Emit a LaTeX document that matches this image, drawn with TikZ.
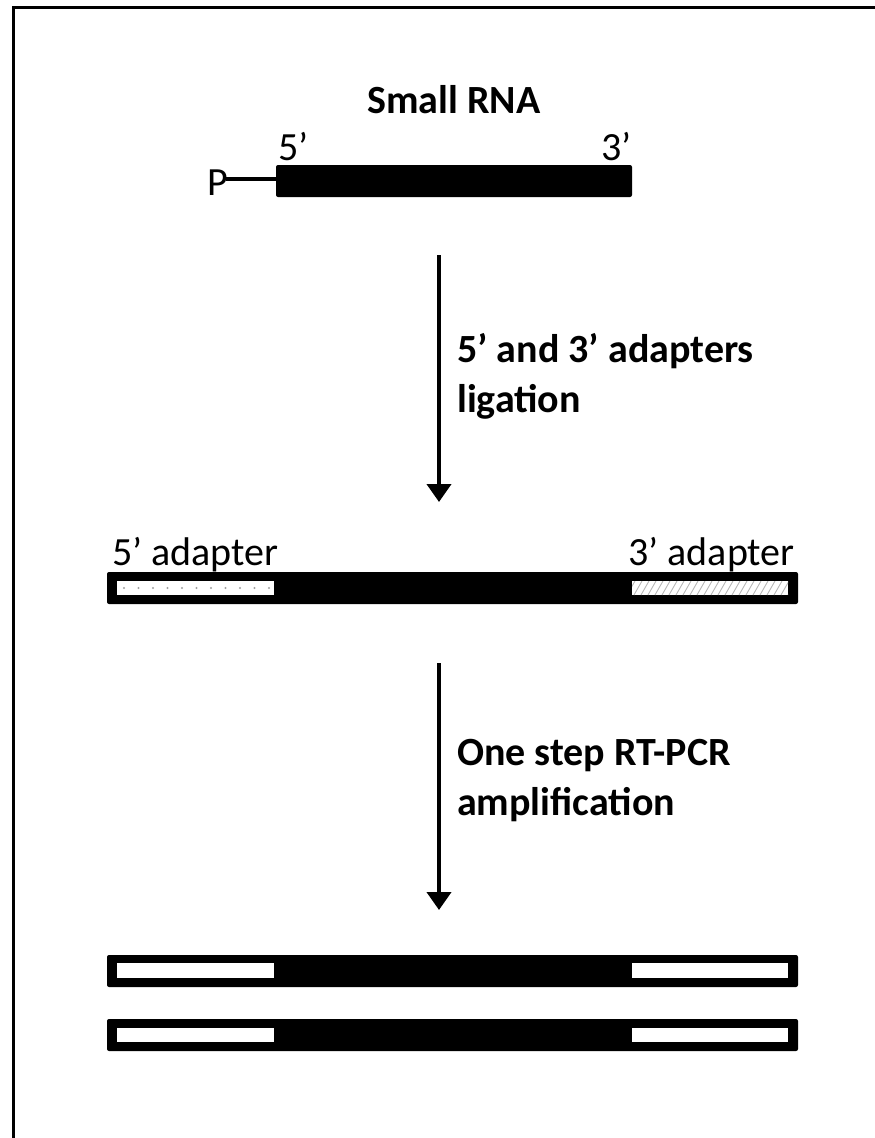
\documentclass[tikz,border=0pt]{standalone}
\usepackage{fontspec}
\setmainfont{Carlito}
\usetikzlibrary{arrows.meta,patterns.meta}
\tikzset{
  lbl/.style={inner sep=0pt, font=\fontsize{40}{50}\selectfont},
  blbl/.style={inner sep=0pt, font=\fontsize{40}{50}\selectfont\bfseries, align=left},
  barbox/.style={fill=black, rounded corners=2pt},
  hole/.style={fill=white},
  dotmark/.style={fill=gray!75},
  steparrow/.style={line width=4pt, -{Triangle[width=24pt,length=18pt]}},
}
\begin{document}
\begin{tikzpicture}[x=1pt,y=-1pt]
\useasboundingbox (0,0) rectangle (875,1138);
% frame (only left and top visible)
\draw[line width=3pt] (13.5,1138) -- (13.5,7.5) -- (875,7.5);

% small RNA
\node[blbl, anchor=base] (title) at (454,113) {Small RNA};
\fill[barbox] (276,165) rectangle (632,197);
\node[lbl, anchor=base west] (p5) at (278,160) {5’};
\node[lbl, anchor=base east] (p3) at (632,160) {3’};
\node[lbl, anchor=base west] (P) at (207,195) {P};
\coordinate (Pend) at (226,179);
\coordinate (rnaL) at (277,179);
\draw[line width=4pt] (Pend) -- (rnaL);

% arrow 1
\coordinate (a1s) at (439,255);
\coordinate (a1e) at (439,502);
\draw[steparrow] (a1s) -- (a1e);
\node[blbl, anchor=base west] (lig) at (457,412) {5’ and 3’ adapters\\ligation};

% ligated product
\node[lbl, anchor=base west] (ad5) at (112,565) {5’ adapter};
\node[lbl, anchor=base east] (ad3) at (795,565) {3’ adapter};
\fill[barbox] (107,572) rectangle (798,604);
\fill[hole] (117,581) rectangle (274,595);
\foreach \x in {124,138.5,153,167.5,182,196.5,211,225.5,240,254.5,269}
  \fill[dotmark] (\x,588) circle (1.1);
\fill[hole] (632,581) rectangle (788,595);
\begin{scope}
  \clip (632,581) rectangle (788,595);
  \foreach \x in {620,627,...,790}
    \draw[gray!55, line width=0.9pt] (\x,595) -- ++(8,-14);
\end{scope}

% arrow 2
\coordinate (a2s) at (439,663);
\coordinate (a2e) at (439,910);
\draw[steparrow] (a2s) -- (a2e);
\node[blbl, anchor=base west] (pcr) at (457,815) {One step RT-PCR\\amplification};

% amplified products
\fill[barbox] (107,955) rectangle (798,987);
\fill[hole] (117,963) rectangle (274,978);
\fill[hole] (632,963) rectangle (788,978);
\fill[barbox] (107,1019) rectangle (798,1051);
\fill[hole] (117,1028) rectangle (274,1042);
\fill[hole] (632,1028) rectangle (788,1042);
\end{tikzpicture}
\end{document}
